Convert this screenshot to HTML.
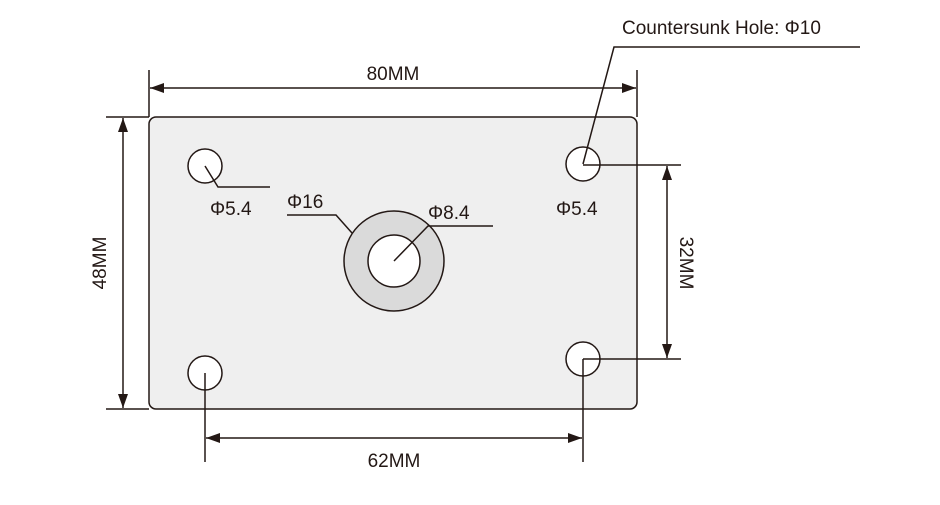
<!DOCTYPE html>
<html><head><meta charset="utf-8"><style>body{margin:0;background:#fff}svg text{font-family:"Liberation Sans",sans-serif;fill:#231815}</style></head><body>
<svg width="940" height="500" viewBox="0 0 940 500" xmlns="http://www.w3.org/2000/svg">
<defs><marker id="a" markerWidth="14" markerHeight="10" refX="14" refY="5" orient="auto-start-reverse" markerUnits="userSpaceOnUse"><path d="M0,0L14,5L0,10z" fill="#231815"/></marker></defs>
<g stroke="#231815" stroke-width="1.5" fill="none">
<rect x="149" y="117" width="488" height="292" rx="7" fill="#efefef"/>
<line x1="149" y1="70" x2="149" y2="117"/><line x1="637" y1="70" x2="637" y2="117"/>
<line x1="150" y1="88" x2="636" y2="88" marker-start="url(#a)" marker-end="url(#a)"/>
<line x1="106" y1="117" x2="149" y2="117"/><line x1="106" y1="409" x2="149" y2="409"/>
<line x1="123" y1="118" x2="123" y2="408" marker-start="url(#a)" marker-end="url(#a)"/>
<circle cx="205" cy="166" r="17" fill="#fff"/><circle cx="583" cy="164" r="17" fill="#fff"/>
<circle cx="205" cy="373" r="17" fill="#fff"/><circle cx="583" cy="359" r="17" fill="#fff"/>
<circle cx="394" cy="261" r="50" fill="#dadada"/><circle cx="394" cy="261" r="26" fill="#fff"/>
<polyline points="205,166 218,187 270,187"/>
<polyline points="287,215 336,215 352,233"/>
<polyline points="394,261 428,226 493,226"/>
<polyline points="583,164 614,47 860,47"/>
<line x1="583" y1="165" x2="681" y2="165"/><line x1="583" y1="359" x2="681" y2="359"/>
<line x1="667" y1="166" x2="667" y2="358" marker-start="url(#a)" marker-end="url(#a)"/>
<line x1="205" y1="373" x2="205" y2="462"/><line x1="583" y1="359" x2="583" y2="462"/>
<line x1="206" y1="438" x2="582" y2="438" marker-start="url(#a)" marker-end="url(#a)"/>
</g>
<g font-size="19">
<text x="393" y="80" text-anchor="middle">80MM</text>
<text x="622" y="34">Countersunk Hole: Φ10</text>
<text x="210" y="215">Φ5.4</text>
<text x="287" y="208">Φ16</text>
<text x="428" y="219">Φ8.4</text>
<text x="556" y="215">Φ5.4</text>
<text x="394" y="467" text-anchor="middle">62MM</text>
<text transform="translate(106,263) rotate(-90)" text-anchor="middle">48MM</text>
<text transform="translate(680,263) rotate(90)" text-anchor="middle">32MM</text>
</g>
</svg>
</body></html>
